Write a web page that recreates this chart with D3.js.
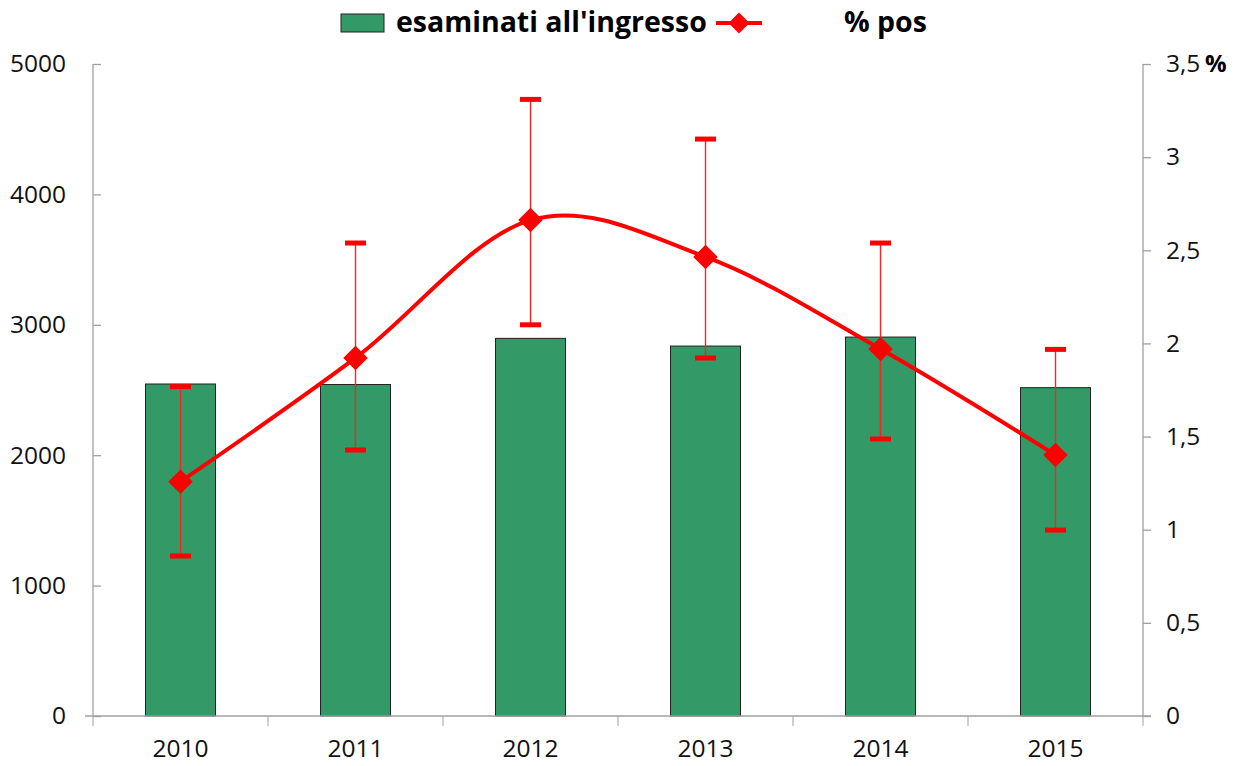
<!DOCTYPE html>
<html>
<head>
<meta charset="utf-8">
<script src="https://cdn.jsdelivr.net/npm/d3@7"></script>
<style>
  body { margin: 0; background: #fff; }
  text { font-family: "Open Sans", "Liberation Sans", sans-serif; fill: #000; }
</style>
</head>
<body>
<script>
var years = ["2010", "2011", "2012", "2013", "2014", "2015"];
var esaminati = [2546, 2542, 2896, 2837, 2906, 2518];
var pctPos = [1.258, 1.922, 2.662, 2.464, 1.970, 1.401];
var pctLow = [0.859, 1.428, 2.100, 1.922, 1.487, 0.998];
var pctHigh = [1.768, 2.539, 3.310, 3.097, 2.539, 1.968];
var leftTicks = [0, 1000, 2000, 3000, 4000, 5000];
var rightTicks = [0, 0.5, 1, 1.5, 2, 2.5, 3, 3.5];

var W = 1238, H = 766;
var x0 = 93, x1 = 1143, yTop = 64, yBot = 716;

var svg = d3.select("body").append("svg")
    .attr("width", W)
    .attr("height", H);

var x = d3.scaleBand().domain(years).range([x0, x1]).paddingInner(0.6).paddingOuter(0.3);
var xc = d3.scaleBand().domain(years).range([x0, x1]);
var yL = d3.scaleLinear().domain([0, 5000]).range([yBot, yTop]);
var yR = d3.scaleLinear().domain([0, 3.5]).range([yBot, yTop]);

var axisColor = "#a0a0a0";

// bars
svg.append("g").selectAll("rect")
    .data(years)
    .enter().append("rect")
    .attr("x", function (d) { return x(d); })
    .attr("y", function (d, i) { return yL(esaminati[i]); })
    .attr("width", x.bandwidth())
    .attr("height", function (d, i) { return yBot - yL(esaminati[i]); })
    .style("fill", "#339966")
    .style("stroke", "#222")
    .style("stroke-width", 1);

// left axis
var gl = svg.append("g").attr("transform", "translate(" + x0 + ",0)");
gl.call(d3.axisLeft(yL).tickValues(leftTicks).tickSize(8).tickPadding(19).tickFormat(d3.format("d")));
gl.selectAll(".tick line").attr("x2", 8);
gl.select(".domain").attr("d", "M0," + yTop + "V" + yBot);

// right axis
var gr = svg.append("g").attr("transform", "translate(" + x1 + ",0)");
gr.call(d3.axisRight(yR).tickValues(rightTicks).tickSize(8).tickPadding(15)
    .tickFormat(function (d) { return String(d).replace(".", ","); }));
gr.select(".domain").attr("d", "M0," + yTop + "V" + yBot);

// x axis
var gx = svg.append("g").attr("transform", "translate(0," + yBot + ")");
gx.call(d3.axisBottom(xc).tickSize(0).tickPadding(24));
gx.select(".domain").attr("d", "M" + (x0 - 8) + ",0H" + (x1 + 8));
gx.selectAll(".xtick").data(d3.range(years.length + 1)).enter().append("line")
    .attr("x1", function (i) { return x0 + i * xc.step(); })
    .attr("x2", function (i) { return x0 + i * xc.step(); })
    .attr("y1", 0).attr("y2", 10)
    .style("stroke", axisColor);

svg.selectAll(".domain, .tick line").style("stroke", axisColor).style("stroke-width", 1.3);
svg.selectAll(".tick text").style("font-size", "24.5px").style("fill", "#111");

svg.append("text")
    .attr("x", 1205).attr("y", 64).attr("dy", "0.35em")
    .style("font-size", "24px").style("font-weight", "bold")
    .text("%");

// error bars
var cx = function (i) { return xc(years[i]) + xc.bandwidth() / 2; };
var eb = svg.append("g").selectAll("g").data(years).enter().append("g");
eb.append("line")
    .attr("x1", function (d, i) { return cx(i); })
    .attr("x2", function (d, i) { return cx(i); })
    .attr("y1", function (d, i) { return yR(pctHigh[i]); })
    .attr("y2", function (d, i) { return yR(pctLow[i]); })
    .style("stroke", "#f22").style("stroke-width", 1.4);
[pctHigh, pctLow].forEach(function (arr) {
    eb.append("line")
        .attr("x1", function (d, i) { return cx(i) - 10.5; })
        .attr("x2", function (d, i) { return cx(i) + 10.5; })
        .attr("y1", function (d, i) { return yR(arr[i]); })
        .attr("y2", function (d, i) { return yR(arr[i]); })
        .style("stroke", "red").style("stroke-width", 5);
});

// line
var line = d3.line()
    .x(function (d, i) { return cx(i); })
    .y(function (d) { return yR(d); })
    .curve(d3.curveCardinal.tension(0));
svg.append("path")
    .datum(pctPos)
    .attr("d", line)
    .style("fill", "none")
    .style("stroke", "red")
    .style("stroke-width", 4);

var diamond = d3.symbol().type(d3.symbolSquare).size(300);
svg.append("g").selectAll("path").data(pctPos).enter().append("path")
    .attr("d", diamond)
    .attr("transform", function (d, i) { return "translate(" + cx(i) + "," + yR(d) + ") rotate(45)"; })
    .style("fill", "red");

// legend
var lg = svg.append("g");
lg.append("rect").attr("x", 341).attr("y", 14).attr("width", 43).attr("height", 18)
    .style("fill", "#339966").style("stroke", "#222").style("stroke-width", 1);
lg.append("text").attr("x", 396).attr("y", 22).attr("dy", "0.35em")
    .style("font-size", "28.5px").style("font-weight", "bold")
    .text("esaminati all'ingresso");
lg.append("line").attr("x1", 716).attr("x2", 762).attr("y1", 23).attr("y2", 23)
    .style("stroke", "red").style("stroke-width", 4);
lg.append("path").attr("d", d3.symbol().type(d3.symbolSquare).size(220))
    .attr("transform", "translate(739,23) rotate(45)").style("fill", "red");
lg.append("text").attr("x", 844).attr("y", 22).attr("dy", "0.35em")
    .style("font-size", "28.5px").style("font-weight", "bold")
    .text("% pos");
</script>
</body>
</html>
